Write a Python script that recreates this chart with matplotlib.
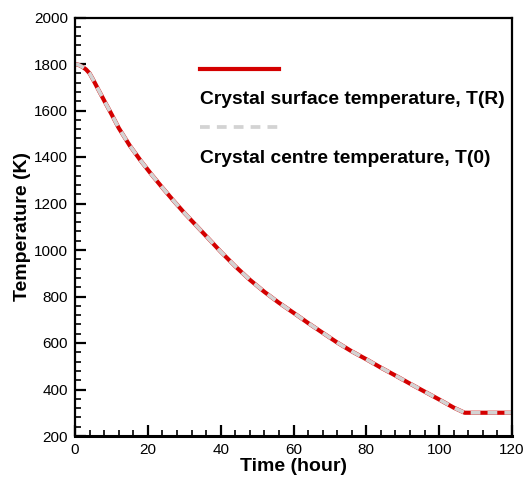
import matplotlib
matplotlib.use("Agg")
import matplotlib.pyplot as plt
from matplotlib.ticker import MultipleLocator
from matplotlib.lines import Line2D

# Data
time_hours = [0, 1, 2, 3, 4, 5, 6, 8, 10, 12, 15, 18, 21, 24, 27, 30, 33, 36, 40, 44, 48,
              52, 56, 60, 64, 68, 72, 76, 80, 84, 88, 92, 96, 100, 104, 107, 110, 120]
t_surface = [1800, 1796, 1788, 1777, 1760, 1732, 1702, 1643, 1585, 1525, 1450, 1385, 1325,
             1268, 1213, 1160, 1110, 1060, 993, 930, 872, 820, 773, 730, 686, 644, 602, 564,
             530, 494, 460, 425, 391, 357, 322, 300, 300, 300]
t_centre = [1800, 1796, 1788, 1777, 1760, 1732, 1702, 1643, 1585, 1525, 1450, 1385, 1325,
            1268, 1213, 1160, 1110, 1060, 993, 930, 872, 820, 773, 730, 686, 644, 602, 564,
            530, 494, 460, 425, 391, 357, 322, 300, 300, 300]
labels = ["Crystal surface temperature, T(R)", "Crystal centre temperature, T(0)"]

plt.rcParams['font.family'] = ['Liberation Sans', 'DejaVu Sans']

fig = plt.figure(figsize=(5.28, 4.8), dpi=100)
ax = fig.add_axes([75/528, 1 - 436/480, 437/528, (436 - 17.5)/480])

red = '#d40000'
gray = '#d3d3d3'
ax.plot(time_hours, t_surface, color=red, lw=3.0, solid_capstyle='butt', solid_joinstyle='round')
ax.plot(time_hours, t_centre, color=gray, lw=2.7, dashes=(2.6, 1.9), dash_capstyle='butt')

ax.set_xlim(0, 120)
ax.set_ylim(200, 2000)
ax.xaxis.set_major_locator(MultipleLocator(20))
ax.xaxis.set_minor_locator(MultipleLocator(4))
ax.yaxis.set_major_locator(MultipleLocator(200))
ax.yaxis.set_minor_locator(MultipleLocator(40))
ax.tick_params(which='both', direction='in', top=False, right=False, labelsize=11, pad=5, colors='black')
ax.tick_params(which='major', length=8, width=1.6)
ax.tick_params(which='minor', length=4, width=1.2)
for s in ['left', 'top', 'right']:
    ax.spines[s].set_linewidth(1.6)
ax.spines['bottom'].set_linewidth(2.2)

ax.set_xlabel('Time (hour)', fontsize=14, fontweight='bold', labelpad=1)
ax.set_ylabel('Temperature (K)', fontsize=14, fontweight='bold', labelpad=2)

# Legend: sample line above its text
blank = Line2D([], [], color='none')
h_red = Line2D([], [], color=red, lw=3.0)
h_gray = Line2D([], [], color=gray, lw=2.7, dashes=(2.6, 1.9))
leg = ax.legend([h_red, blank, h_gray, blank], ['', labels[0], '', labels[1]],
                loc='upper left', bbox_to_anchor=(0.286, 0.894), frameon=False,
                borderpad=0, borderaxespad=0, handlelength=4.1, handletextpad=-4.1,
                labelspacing=0.6, prop={'weight': 'bold', 'size': 13.9})

fig.savefig('out.png', dpi=100)
